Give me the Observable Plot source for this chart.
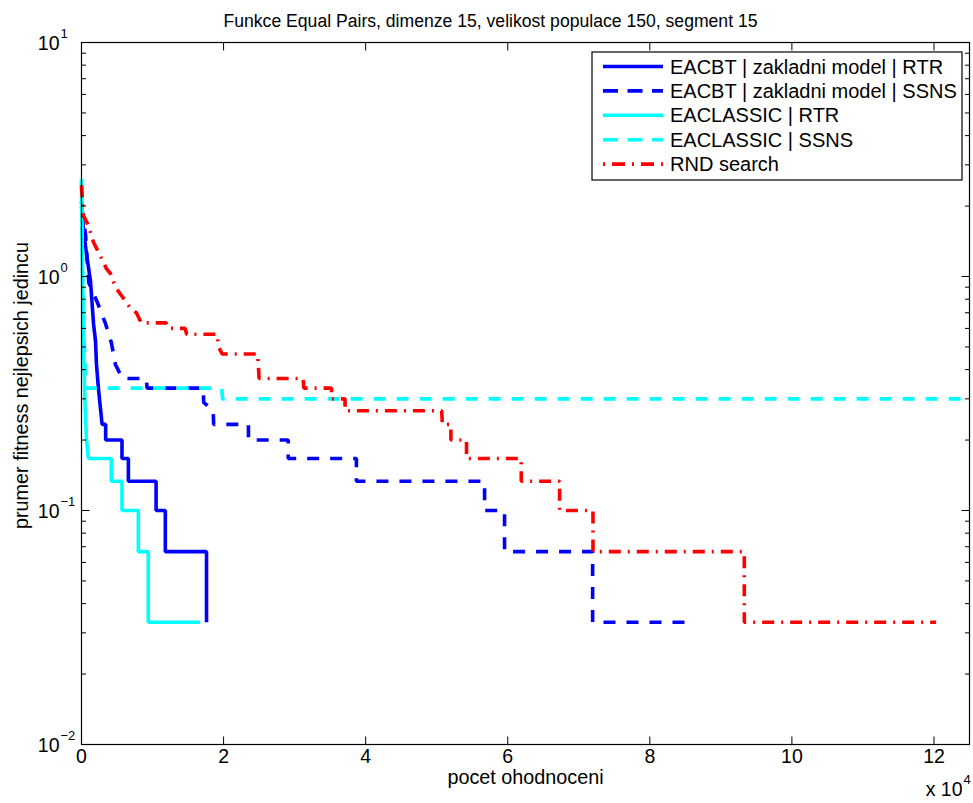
<!DOCTYPE html>
<html><head><meta charset="utf-8">
<script src="https://cdn.jsdelivr.net/npm/d3@7"></script>
<script src="https://cdn.jsdelivr.net/npm/@observablehq/plot@0.6"></script>
<style>body{margin:0;background:#fff}svg{display:block}</style>
</head><body><div id="chart"></div>
<script>
const title = "Funkce Equal Pairs, dimenze 15, velikost populace 150, segment 15";
const xLabel = "pocet ohodnoceni";
const yLabel = "prumer fitness nejlepsich jedincu";
const xMultiplier = ["x 10", "4"];
const xTickValues = [0, 20000, 40000, 60000, 80000, 100000, 120000];
const xTickLabels = ["0", "2", "4", "6", "8", "10", "12"];
const yTickValues = [0.01, 0.1, 1, 10];
const yTickExponents = ["\u22122", "\u22121", "0", "1"];
const yMinorTicks = [0.02,0.03,0.04,0.05,0.06,0.07,0.08,0.09,0.2,0.3,0.4,0.5,0.6,0.7,0.8,0.9,2,3,4,5,6,7,8,9];

const seriesNames = ["EACBT | zakladni model | RTR","EACBT | zakladni model | SSNS","EACLASSIC | RTR","EACLASSIC | SSNS","RND search"];
const seriesColors = ["#0000ff","#0000ff","#00ffff","#00ffff","#ff0000"];
const seriesDash = [null,"12,11",null,"12,11","12,7,2,7"];

const eacbtRtrX = [0,280,700,1260,1690,1970,2110,2390,2900,3400,3400,5700,5700,6600,6600,10500,10500,11800,11800,17600,17600];
const eacbtRtrY = [2.1,1.57,1.25,0.96,0.63,0.53,0.42,0.33,0.2333,0.2333,0.2,0.2,0.1667,0.1667,0.1333,0.1333,0.1,0.1,0.0667,0.0667,0.0333];

const eacbtSsnsX = [0,560,800,1030,2200,3370,4210,4780,5760,9130,9230,17130,17200,18540,18600,23500,23500,29100,29100,38700,38700,56740,56740,59550,59550,71950,71950,85670];
const eacbtSsnsY = [2.0,1.52,1.17,0.94,0.78,0.63,0.52,0.42,0.3667,0.3667,0.3333,0.3333,0.29,0.2667,0.2333,0.2333,0.2,0.2,0.1667,0.1667,0.1333,0.1333,0.1,0.1,0.0667,0.0667,0.0333,0.0333];

const eaclassicRtrX = [0,140,300,490,700,980,4200,4200,5700,5700,8000,8000,9400,9400,16700];
const eaclassicRtrY = [2.6,1.06,0.5,0.29,0.2,0.1667,0.1667,0.1333,0.1333,0.1,0.1,0.0667,0.0667,0.0333,0.0333];

const eaclassicSsnsX = [0,200,400,700,19750,19850,125000];
const eaclassicSsnsY = [2.6,0.9,0.5,0.3333,0.3333,0.3,0.3];

const rndX = [0,280,980,1690,2390,3510,4070,4780,5620,6880,7720,8430,11900,12200,14600,14800,19100,19300,19800,24800,25000,31200,31300,35200,35200,37100,37100,50700,50800,52000,52000,54200,54200,61900,61900,67300,67300,72000,72000,93300,93300,120300];
const rndY = [2.45,1.82,1.65,1.40,1.27,1.08,1.03,0.90,0.83,0.7333,0.7,0.6333,0.6333,0.6,0.6,0.5667,0.5667,0.5,0.4667,0.4667,0.3667,0.3667,0.3333,0.3333,0.3,0.3,0.2667,0.2667,0.2333,0.2333,0.2,0.2,0.1667,0.1667,0.1333,0.1333,0.1,0.1,0.0667,0.0667,0.0333,0.0333];

const seriesX = [eacbtRtrX, eacbtSsnsX, eaclassicRtrX, eaclassicSsnsX, rndX];
const seriesY = [eacbtRtrY, eacbtSsnsY, eaclassicRtrY, eaclassicSsnsY, rndY];
const rows = seriesX.map((xs, i) => xs.map((x, j) => ({x, y: seriesY[i][j]})));

const FONT = "'Liberation Sans', Arial, Helvetica, sans-serif";
const tick = (dx, dy) => ({draw(ctx) { ctx.moveTo(0, 0); ctx.lineTo(dx, dy); }});
const tickMark = (data, opts, dx, dy) => Plot.dot(data, {...opts, symbol: tick(dx, dy), stroke: "#000", fill: "none", strokeWidth: 1});

const lineMarks = rows.map((r, i) => Plot.line(r, {
  x: "x", y: "y", stroke: seriesColors[i], strokeWidth: 3.6,
  strokeDasharray: seriesDash[i] || undefined, strokeLinecap: "butt", strokeLinejoin: "miter"
}));

const plot = Plot.plot({
  width: 973, height: 803,
  marginLeft: 81, marginRight: 4, marginTop: 42, marginBottom: 59,
  style: {fontFamily: FONT, fontSize: "19px", color: "#000", background: "#fff"},
  x: {type: "linear", domain: [0, 125000], axis: null},
  y: {type: "log", domain: [0.01, 10], axis: null},
  marks: [
    ...lineMarks,
    Plot.frame({stroke: "#000", strokeWidth: 1.2}),
    tickMark(xTickValues, {x: d => d, frameAnchor: "bottom"}, 0, -8),
    tickMark(xTickValues, {x: d => d, frameAnchor: "top"}, 0, 8),
    tickMark(yTickValues, {y: d => d, frameAnchor: "left"}, 8, 0),
    tickMark(yTickValues, {y: d => d, frameAnchor: "right"}, -8, 0),
    tickMark(yMinorTicks, {y: d => d, frameAnchor: "left"}, 4.5, 0),
    tickMark(yMinorTicks, {y: d => d, frameAnchor: "right"}, -4.5, 0),
    Plot.text(xTickValues, {x: d => d, frameAnchor: "bottom", dy: 18, text: (d, i) => xTickLabels[i], textAnchor: "middle", fontSize: 19.5}),
    Plot.text(yTickValues, {y: d => d, frameAnchor: "left", dx: -22, dy: 1, text: () => "10", textAnchor: "end", fontSize: 19.5}),
    Plot.text(yTickValues, {y: d => d, frameAnchor: "left", dx: -21, dy: -9, text: (d, i) => yTickExponents[i], textAnchor: "start", fontSize: 13}),
    Plot.text([xLabel], {frameAnchor: "bottom", dy: 39, text: d => d, textAnchor: "middle", fontSize: 19.8}),
    Plot.text([yLabel], {frameAnchor: "left", dx: -60, dy: -8, rotate: -90, text: d => d, textAnchor: "middle", fontSize: 19.8}),
    Plot.text([title], {frameAnchor: "top", dy: -28, dx: -35, text: d => d, textAnchor: "middle", fontSize: 17.6}),
    Plot.text([xMultiplier[0]], {frameAnchor: "bottom-right", dy: 51, dx: -7, textAnchor: "end", text: d => d, fontSize: 19.5}),
    Plot.text([xMultiplier[1]], {frameAnchor: "bottom-right", dy: 39, dx: -6, textAnchor: "start", text: d => d, fontSize: 13})
  ]
});
document.getElementById("chart").appendChild(plot);

// legend box (top right, inside axes)
const svg = d3.select(plot);
const lg = svg.append("g").attr("font-family", FONT).attr("font-size", 20).attr("text-anchor", "start");
lg.append("rect").attr("x", 592).attr("y", 52).attr("width", 370).attr("height", 128)
  .attr("fill", "#fff").attr("stroke", "#000").attr("stroke-width", 1.2);
seriesNames.forEach((name, i) => {
  const cy = 66.5 + i * 24.4;
  lg.append("line").attr("x1", 603).attr("x2", 663).attr("y1", cy).attr("y2", cy)
    .attr("stroke", seriesColors[i]).attr("stroke-width", 3.6)
    .attr("stroke-dasharray", seriesDash[i] ? (i === 4 ? "2,7,13,7" : "15,9.5") : null);
  lg.append("text").attr("x", 670).attr("y", cy).attr("dy", "0.35em").attr("fill", "#000")
    .attr("text-anchor", "start").text(name);
});
</script>
</body></html>
